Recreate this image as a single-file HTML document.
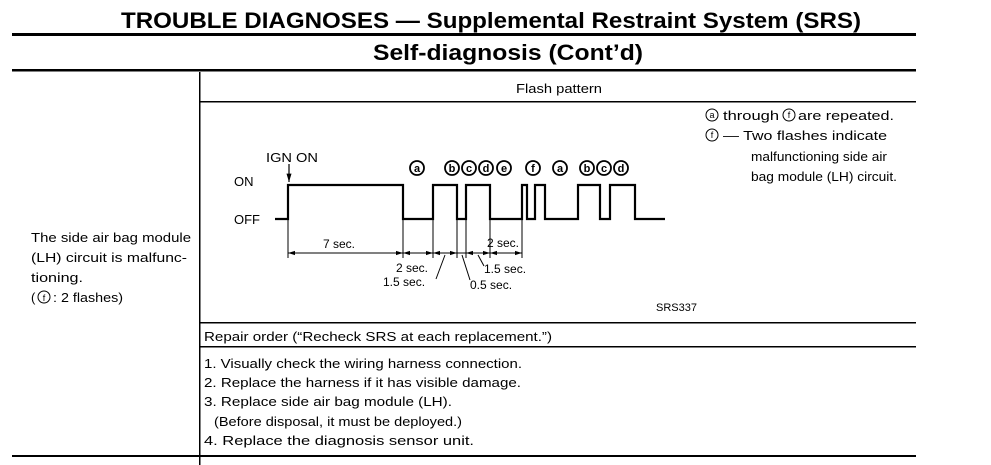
<!DOCTYPE html>
<html><head><meta charset="utf-8"><style>
html,body{margin:0;padding:0;background:#fff;}
svg{display:block;}
text{font-family:"Liberation Sans",sans-serif;fill:#000;}
</style></head><body>
<svg width="991" height="465" viewBox="0 0 991 465" xmlns="http://www.w3.org/2000/svg">
<defs>
<marker id="ar" viewBox="0 0 10 10" refX="10" refY="5" markerWidth="7" markerHeight="7" orient="auto-start-reverse"><path d="M0,2 L10,5 L0,8 z" fill="#000"/></marker>
</defs>
<text x="121" y="28" font-size="22" font-weight="bold" textLength="740" lengthAdjust="spacingAndGlyphs">TROUBLE DIAGNOSES — Supplemental Restraint System (SRS)</text>
<rect x="12" y="33" width="904" height="3"/>
<text x="373" y="60" font-size="22" font-weight="bold" textLength="270" lengthAdjust="spacingAndGlyphs">Self-diagnosis (Cont’d)</text>
<rect x="12" y="69" width="904" height="2.5"/>
<rect x="199" y="72" width="1.5" height="393"/>
<rect x="200" y="101" width="716" height="1.5"/>
<rect x="200" y="322" width="716" height="1.5"/>
<rect x="200" y="346" width="716" height="1.5"/>
<rect x="12" y="455" width="904" height="2"/>
<text x="516" y="93" font-size="13" textLength="86" lengthAdjust="spacingAndGlyphs">Flash pattern</text>
<g font-size="13">
<text x="31" y="242" textLength="160" lengthAdjust="spacingAndGlyphs">The side air bag module</text>
<text x="31" y="262" textLength="156" lengthAdjust="spacingAndGlyphs">(LH) circuit is malfunc-</text>
<text x="31" y="282" textLength="52" lengthAdjust="spacingAndGlyphs">tioning.</text>
<text x="31" y="302">(</text>
<text x="53" y="302" textLength="70" lengthAdjust="spacingAndGlyphs">: 2 flashes)</text>
</g>
<circle cx="44" cy="297" r="6" fill="none" stroke="#000" stroke-width="1"/>
<text x="44" y="301" font-size="9" text-anchor="middle">f</text>
<g fill="none" stroke="#000" stroke-width="1">
<circle cx="712" cy="115" r="6"/><circle cx="789" cy="115" r="6"/><circle cx="712" cy="135" r="6"/>
</g>
<g font-size="9" text-anchor="middle">
<text x="712" y="118">a</text><text x="789" y="118">f</text><text x="712" y="138">f</text>
</g>
<g font-size="13">
<text x="723" y="120" textLength="56" lengthAdjust="spacingAndGlyphs">through</text>
<text x="798" y="120" textLength="96" lengthAdjust="spacingAndGlyphs">are repeated.</text>
<text x="723" y="140" textLength="164" lengthAdjust="spacingAndGlyphs">— Two flashes indicate</text>
<text x="751" y="161" textLength="136" lengthAdjust="spacingAndGlyphs">malfunctioning side air</text>
<text x="751" y="181" textLength="146" lengthAdjust="spacingAndGlyphs">bag module (LH) circuit.</text>
</g>
<text x="266" y="162" font-size="12.5" textLength="52" lengthAdjust="spacingAndGlyphs">IGN ON</text>
<line x1="289" y1="164" x2="289" y2="182" stroke="#000" stroke-width="1.2" marker-end="url(#ar)"/>
<text x="234" y="186" font-size="13">ON</text>
<text x="234" y="224" font-size="13">OFF</text>
<polyline fill="none" stroke="#000" stroke-width="2.2" points="275,219 288,219 288,185 403,185 403,219 433,219 433,185 457,185 457,219 466,219 466,185 490,185 490,219 522,219 522,185 527,185 527,219 535,219 535,185 545,185 545,219 578,219 578,185 600,185 600,219 610,219 610,185 635,185 635,219 665,219"/>
<g fill="none" stroke="#000" stroke-width="1.8">
<circle cx="417" cy="168" r="7"/><circle cx="452" cy="168" r="7"/><circle cx="469" cy="168" r="7"/><circle cx="486" cy="168" r="7"/><circle cx="504" cy="168" r="7"/><circle cx="533" cy="168" r="7"/><circle cx="560" cy="168" r="7"/><circle cx="587" cy="168" r="7"/><circle cx="604" cy="168" r="7"/><circle cx="621" cy="168" r="7"/>
</g>
<g font-size="11" font-weight="bold" text-anchor="middle">
<text x="417" y="172">a</text><text x="452" y="172">b</text><text x="469" y="172">c</text><text x="486" y="172">d</text><text x="504" y="172">e</text><text x="533" y="172">f</text><text x="560" y="172">a</text><text x="587" y="172">b</text><text x="604" y="172">c</text><text x="621" y="172">d</text>
</g>
<g stroke="#000" stroke-width="1">
<line x1="288" y1="219" x2="288" y2="258"/><line x1="403" y1="219" x2="403" y2="258"/><line x1="433" y1="219" x2="433" y2="258"/><line x1="457" y1="219" x2="457" y2="258"/><line x1="466" y1="219" x2="466" y2="258"/><line x1="490" y1="219" x2="490" y2="258"/><line x1="522" y1="219" x2="522" y2="258"/>
<line x1="288" y1="253" x2="403" y2="253" marker-start="url(#ar)" marker-end="url(#ar)"/>
<line x1="403" y1="253" x2="433" y2="253" marker-start="url(#ar)" marker-end="url(#ar)"/>
<line x1="433" y1="253" x2="457" y2="253" marker-start="url(#ar)" marker-end="url(#ar)"/>
<line x1="457" y1="253" x2="466" y2="253"/>
<line x1="466" y1="253" x2="490" y2="253" marker-start="url(#ar)" marker-end="url(#ar)"/>
<line x1="490" y1="253" x2="522" y2="253" marker-start="url(#ar)" marker-end="url(#ar)"/>
<line x1="445" y1="255" x2="436" y2="279"/>
<line x1="462" y1="255" x2="470" y2="280"/>
<line x1="478" y1="255" x2="484" y2="266"/>
</g>
<g font-size="12">
<text x="323" y="248">7 sec.</text>
<text x="396" y="272">2 sec.</text>
<text x="383" y="286">1.5 sec.</text>
<text x="487" y="247">2 sec.</text>
<text x="484" y="273">1.5 sec.</text>
<text x="470" y="289">0.5 sec.</text>
<text x="656" y="311" font-size="11">SRS337</text>
</g>
<g font-size="13">
<text x="204" y="341" textLength="348" lengthAdjust="spacingAndGlyphs">Repair order (“Recheck SRS at each replacement.”)</text>
<text x="204" y="368" textLength="318" lengthAdjust="spacingAndGlyphs">1. Visually check the wiring harness connection.</text>
<text x="204" y="387" textLength="317" lengthAdjust="spacingAndGlyphs">2. Replace the harness if it has visible damage.</text>
<text x="204" y="406" textLength="248" lengthAdjust="spacingAndGlyphs">3. Replace side air bag module (LH).</text>
<text x="214" y="426" textLength="248" lengthAdjust="spacingAndGlyphs">(Before disposal, it must be deployed.)</text>
<text x="204" y="445" textLength="270" lengthAdjust="spacingAndGlyphs">4. Replace the diagnosis sensor unit.</text>
</g>
</svg>
</body></html>
